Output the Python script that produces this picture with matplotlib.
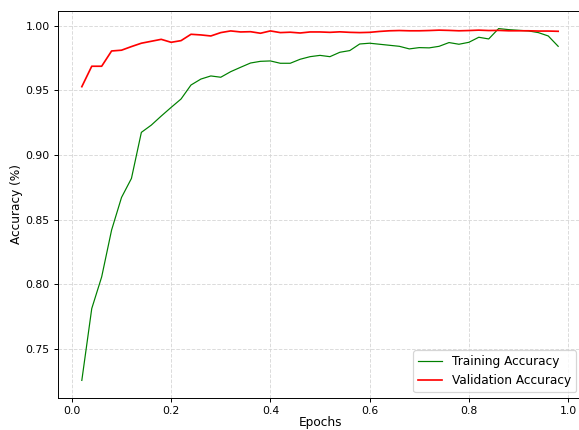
import numpy as np
import matplotlib
matplotlib.use("Agg")
import matplotlib.pyplot as plt

# epochs (fraction of training) and accuracy curves
epochs = [0.02, 0.04, 0.06, 0.08, 0.10, 0.12, 0.14, 0.16, 0.18, 0.20,
          0.22, 0.24, 0.26, 0.28, 0.30, 0.32, 0.34, 0.36, 0.38, 0.40,
          0.42, 0.44, 0.46, 0.48, 0.50, 0.52, 0.54, 0.56, 0.58, 0.60,
          0.62, 0.64, 0.66, 0.68, 0.70, 0.72, 0.74, 0.76, 0.78, 0.80,
          0.82, 0.84, 0.86, 0.88, 0.90, 0.92, 0.94, 0.96, 0.98]

train_acc = [0.7258, 0.7813, 0.8058, 0.8420, 0.8672, 0.8819, 0.9175, 0.9231, 0.9301, 0.9368,
             0.9433, 0.9541, 0.9587, 0.9611, 0.9601, 0.9644, 0.9678, 0.9711, 0.9724, 0.9727,
             0.9709, 0.9709, 0.9740, 0.9760, 0.9770, 0.9760, 0.9794, 0.9807, 0.9858, 0.9864,
             0.9856, 0.9848, 0.9840, 0.9820, 0.9830, 0.9828, 0.9840, 0.9869, 0.9856, 0.9871,
             0.9910, 0.9897, 0.9977, 0.9969, 0.9964, 0.9959, 0.9946, 0.9920, 0.9840]

val_acc = [0.9528, 0.9686, 0.9686, 0.9804, 0.9810, 0.9838, 0.9864, 0.9879, 0.9894, 0.9871,
           0.9884, 0.9933, 0.9928, 0.9920, 0.9946, 0.9959, 0.9951, 0.9953, 0.9941, 0.9959,
           0.9946, 0.9949, 0.9943, 0.9951, 0.9951, 0.9948, 0.9952, 0.9948, 0.9946, 0.9948,
           0.9955, 0.9960, 0.9962, 0.9960, 0.9960, 0.9962, 0.9965, 0.9963, 0.9960, 0.9962,
           0.9965, 0.9962, 0.9963, 0.9960, 0.9960, 0.9960, 0.9958, 0.9958, 0.9956]

DPI = 87
fig = plt.figure(figsize=(579 / DPI, 430 / DPI), dpi=DPI)
# right spine sits just past the image edge, as in the reference
ax = fig.add_axes([58 / 579, 32 / 430, 524 / 579, 387 / 430])

ax.plot(epochs, train_acc, color="green", linewidth=1.0, label="Training Accuracy")
ax.plot(epochs, val_acc, color="red", linewidth=1.4, label="Validation Accuracy")

ax.tick_params(labelsize=9)
ax.set_xlabel("Epochs", labelpad=-0.5)
ax.set_ylabel("Accuracy (%)", labelpad=2)
ax.grid(True, linestyle="--", color="lightgray", alpha=0.8)
ax.legend(loc="lower right")

fig.savefig("out.png", dpi=DPI)
